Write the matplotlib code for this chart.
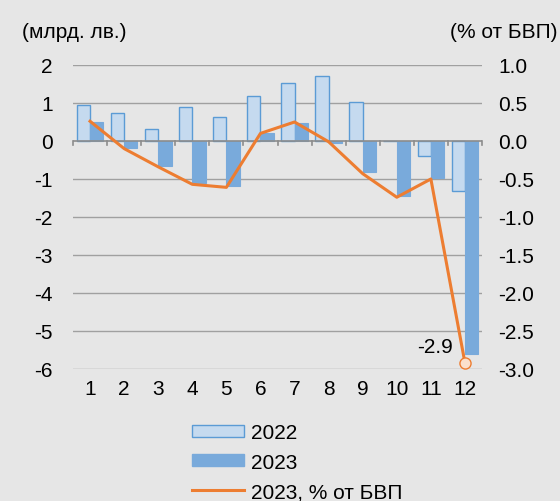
import matplotlib
matplotlib.use("Agg")
import matplotlib.pyplot as plt
from matplotlib.patches import Patch
from matplotlib.lines import Line2D
import numpy as np

plt.rcParams['font.family'] = ['Liberation Sans', 'DejaVu Sans']

months = ['1', '2', '3', '4', '5', '6', '7', '8', '9', '10', '11', '12']
v2022 = [0.95, 0.73, 0.32, 0.89, 0.62, 1.19, 1.53, 1.72, 1.02, 0.0, -0.39, -1.32]
v2023 = [0.49, -0.18, -0.65, -1.10, -1.18, 0.20, 0.47, -0.04, -0.82, -1.44, -0.98, -5.60]
pct2023 = [0.26, -0.10, -0.34, -0.57, -0.61, 0.10, 0.25, -0.01, -0.43, -0.74, -0.50, -2.92]
last_label = '-2.9'
left_ticks = [-6, -5, -4, -3, -2, -1, 0, 1, 2]
right_ticks = [-3.0, -2.5, -2.0, -1.5, -1.0, -0.5, 0.0, 0.5, 1.0]

bg = '#e6e6e6'
c22 = '#c5daef'
c23 = '#79aadb'
edge = '#5b9bd5'
orange = '#ed7d31'
fs = 15

fig = plt.figure(figsize=(5.6, 5.02), dpi=100, facecolor=bg)
W, H = 560, 502
ax = fig.add_axes([73 / W, 1 - 370 / H, (482 - 73) / W, (370 - 66) / H])
ax.set_facecolor(bg)

x = np.arange(len(months))
bw = 0.39
ax.bar(x - bw / 2, v2022, bw, color=c22, edgecolor=edge, linewidth=1.0, zorder=2)
ax.bar(x + bw / 2, v2023, bw, color=c23, edgecolor=c23, linewidth=0.8, zorder=2)
ax.set_ylim(-6, 2)
ax.set_xlim(-0.5, len(months) - 0.5)
ax.set_yticks(left_ticks)
ax.set_yticklabels([str(t) for t in left_ticks], fontsize=fs)
for t in left_ticks:
    if t != 0:
        ax.axhline(t, color='#a0a0a0', linewidth=1.0, zorder=1)
ax.axhline(0, color='#8c8c8c', linewidth=1.2, zorder=3)
# category boundary ticks on the zero line
for b in np.arange(-0.5, len(months), 1.0):
    ax.plot([b, b], [0, -0.1], color='#8c8c8c', linewidth=1.2, zorder=3, clip_on=False)
ax.set_xticks(x)
ax.set_xticklabels(months, fontsize=fs)
ax.tick_params(axis='x', length=0, pad=7)
ax.tick_params(axis='y', length=0, pad=14.5)
for s in ax.spines.values():
    s.set_visible(False)

ax2 = ax.twinx()
ax2.set_ylim(-3, 1)
ax2.set_yticks(right_ticks)
ax2.set_yticklabels([f'{t:.1f}' for t in right_ticks], fontsize=fs)
ax2.tick_params(axis='y', length=0, pad=11.5)
for s in ax2.spines.values():
    s.set_visible(False)
ax2.plot(x, pct2023, color=orange, linewidth=2.2, zorder=4)
ax2.plot(x[-1], pct2023[-1], 'o', markersize=8, markerfacecolor='#fbe0cc',
         markeredgecolor=orange, markeredgewidth=1.0, zorder=5)
ax2.annotate(last_label, (x[-1], pct2023[-1]), xytext=(-9, 5), textcoords='offset points',
             ha='right', va='bottom', fontsize=fs)

fig.text(22 / W, 1 - 33 / H, '(млрд. лв.)', fontsize=fs, va='center', ha='left')
fig.text(558 / W, 1 - 33 / H, '(% от БВП)', fontsize=fs, va='center', ha='right')

handles = [Patch(facecolor=c22, edgecolor=edge, linewidth=1.0),
           Patch(facecolor=c23, edgecolor=c23),
           Line2D([0], [0], color=orange, linewidth=2.2)]
labels = ['2022', '2023', '2023, % от БВП']
fig.legend(handles, labels, loc='upper left', bbox_to_anchor=(184 / W, 1 - 416 / H),
           frameon=False, fontsize=fs, handlelength=2.5, handleheight=0.52,
           handletextpad=0.3, labelspacing=0.5, borderaxespad=0)

fig.savefig('out.png', dpi=100, facecolor=bg)
